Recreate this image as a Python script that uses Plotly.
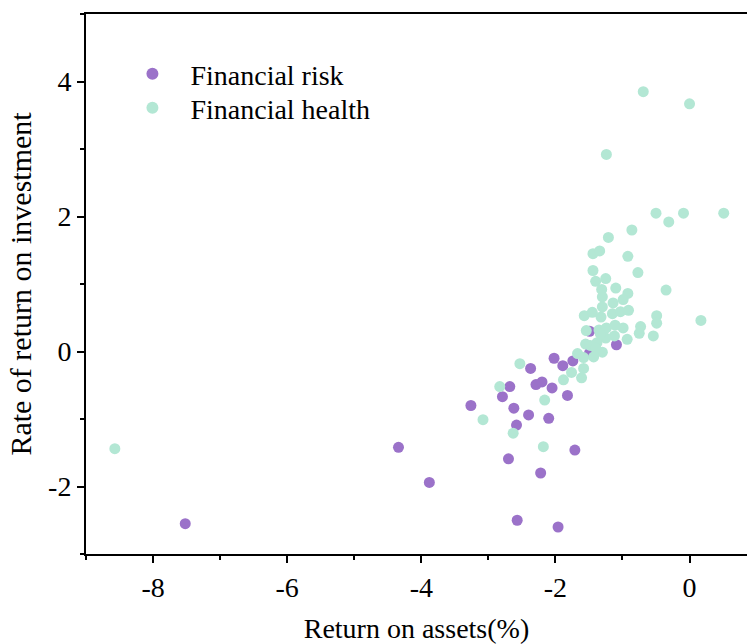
import plotly.graph_objects as go

# Financial risk group: return on assets (%) vs. rate of return on investment
risk_roa = [-7.52, -4.34, -3.88, -3.26, -2.68, -2.79, -2.62, -2.58, -2.37, -2.40,
            -2.29, -2.20, -2.05, -2.10, -2.02, -1.89, -1.74, -1.82, -2.70, -2.22,
            -1.71, -2.57, -1.96, -1.49, -1.49, -1.09]
risk_roi = [-2.55, -1.42, -1.94, -0.80, -0.52, -0.67, -0.84, -1.09, -0.25, -0.94,
            -0.49, -0.45, -0.54, -0.99, -0.10, -0.21, -0.14, -0.65, -1.59, -1.80,
            -1.46, -2.50, -2.60, 0.30, -0.02, 0.10]

# Financial health group
health_roa = [-8.57, -0.69, 0.00, -1.24, -0.50, -0.31, -0.09, 0.51, -0.86, -1.21,
              -1.44, -1.34, -0.92, -1.44, -0.77, -1.40, -1.25, -1.31, -1.10, -0.35,
              -1.30, -0.92, -0.99, -1.14, -1.30, -1.57, -1.45, -1.32, -1.15, -1.03,
              -0.91, -0.49, -0.49, 0.17, -0.73, -0.75, -0.54, -1.54, -1.35, -1.24,
              -1.11, -0.99, -0.93, -1.12, -1.25, -1.33, -1.55, -1.48, -1.38, -1.30,
              -1.43, -1.67, -1.58, -1.58, -1.76, -1.61, -1.88, -2.16, -2.53, -2.83,
              -3.08, -2.63, -2.18, -1.40]
health_roi = [-1.44, 3.85, 3.67, 2.92, 2.05, 1.92, 2.05, 2.05, 1.80, 1.69,
              1.45, 1.49, 1.41, 1.20, 1.17, 1.04, 1.08, 0.92, 0.94, 0.91,
              0.81, 0.86, 0.77, 0.72, 0.66, 0.53, 0.58, 0.51, 0.56, 0.59,
              0.61, 0.53, 0.42, 0.46, 0.37, 0.27, 0.23, 0.31, 0.32, 0.35,
              0.39, 0.35, 0.18, 0.23, 0.20, 0.26, 0.11, 0.09, 0.13, -0.01,
              -0.08, -0.03, -0.09, -0.25, -0.31, -0.39, -0.42, -0.72, -0.18, -0.52,
              -1.01, -1.21, -1.41, 0.05]

x_ticks = [-8, -6, -4, -2, 0]
x_tick_labels = ["-8", "-6", "-4", "-2", "0"]
y_ticks = [-2, 0, 2, 4]
y_tick_labels = ["-2", "0", "2", "4"]

FONT = "Liberation Serif"
PURPLE = "#9B72C9"
GREEN = "#B3E7D4"

fig = go.Figure()
fig.add_trace(go.Scatter(
    x=risk_roa, y=risk_roi, mode="markers", name="Financial risk",
    marker=dict(color=PURPLE, size=11, line=dict(width=0)),
    legend="legend", showlegend=True,
))
fig.add_trace(go.Scatter(
    x=health_roa, y=health_roi, mode="markers", name="Financial health",
    marker=dict(color=GREEN, size=11, line=dict(width=0)),
    legend="legend2", showlegend=True,
))

axis_common = dict(
    showgrid=False, zeroline=False, showline=True, linecolor="black", linewidth=2,
    ticks="outside", ticklen=7, tickwidth=2, tickcolor="black",
    tickfont=dict(family=FONT, size=28, color="black"),
)

fig.update_xaxes(
    **axis_common, range=[-9, 0.857], mirror=True,
    tickmode="array", tickvals=x_ticks, ticktext=x_tick_labels,
    minor=dict(dtick=1, tick0=0, ticks="outside", ticklen=4, tickwidth=2, tickcolor="black"),
    title=dict(text="Return on assets(%)", font=dict(family=FONT, size=28, color="black"), standoff=18),
)
fig.update_yaxes(
    **axis_common, range=[-3, 5],
    tickmode="array", tickvals=y_ticks, ticktext=y_tick_labels,
    minor=dict(dtick=1, tick0=0, ticks="outside", ticklen=4, tickwidth=2, tickcolor="black"),
    title=dict(text="Rate of return on investment", font=dict(family=FONT, size=30, color="black"), standoff=8),
)

legend_common = dict(
    xanchor="left", yanchor="middle", visible=True,
    font=dict(family=FONT, size=28, color="black"),
    bgcolor="rgba(0,0,0,0)", itemsizing="constant", itemwidth=66,
)

fig.update_layout(
    width=747, height=644,
    margin=dict(l=86, r=0, t=14, b=90),
    plot_bgcolor="white", paper_bgcolor="white",
    font=dict(family=FONT, color="black"),
    showlegend=True,
    legend=dict(**legend_common, x=0.043, y=0.889),
    legend2=dict(**legend_common, x=0.043, y=0.826),
)

fig.write_html("out.html")
